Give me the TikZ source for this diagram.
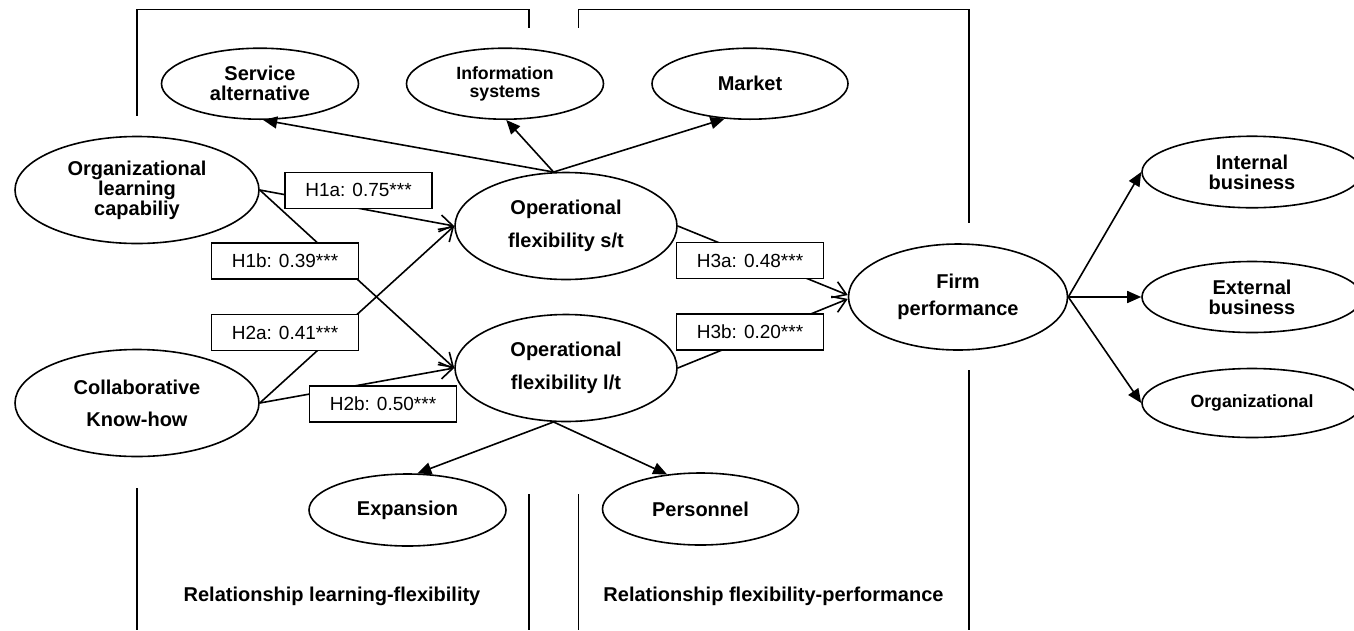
\documentclass[tikz,border=0pt]{standalone}
\usepackage{fontspec}
\setmainfont{Liberation Sans}
\usetikzlibrary{shapes.geometric,arrows.meta}
\begin{document}
\begin{tikzpicture}[x=1pt,y=-1pt,
  lat/.style={ellipse,draw,line width=1.6pt,inner sep=0pt,align=center,font=\bfseries\fontsize{20}{20}\selectfont},
  latsmall/.style={lat,font=\bfseries\fontsize{17.7}{18.3}\selectfont},
  hyp/.style={rectangle,draw,fill=white,line width=1.6pt,minimum width=147pt,minimum height=36pt,inner sep=0pt,font=\fontsize{19}{19}\selectfont},
  conn/.style={line width=1.6pt,-{Straight Barb[length=13pt,width=17pt,line width=1.6pt]}},
  ind/.style={line width=1.6pt,-{Triangle[length=14pt,width=12pt]}},
  frame/.style={line width=1.2pt},
  grp/.style={font=\bfseries\fontsize{20}{20}\selectfont}
]
\useasboundingbox (0,0) rectangle (1354,630);
\clip (0,0) rectangle (1354,630);

% frame lines
\draw[frame] (137,115.7) -- (137,9.3) -- (529,9.3) -- (529,27.7);
\draw[frame] (578.6,27.7) -- (578.6,9.3) -- (969,9.3) -- (969,223);
\draw[frame] (137,488) -- (137,630);
\draw[frame] (529,494) -- (529,630);
\draw[frame] (578.6,494) -- (578.6,630);
\draw[frame] (969,370) -- (969,630);

% latent variables
\node[lat,minimum width=197pt,minimum height=71pt] (sa) at (260,83.7) {Service\\alternative};
\node[latsmall,minimum width=197pt,minimum height=71pt] (is) at (505,83.7) {Information\\systems};
\node[lat,minimum width=196pt,minimum height=71pt] (mk) at (750,83.7) {Market};
\node[lat,minimum width=244pt,minimum height=107pt] (ol) at (137,190) {Organizational\\learning\\capabiliy};
\node[lat,minimum width=222pt,minimum height=107pt] (st) at (566,226) {Operational\\[12.7pt]flexibility s/t};
\node[lat,minimum width=244pt,minimum height=107pt] (ck) at (137,403) {Collaborative\\[12pt]Know-how};
\node[lat,minimum width=222pt,minimum height=107pt] (lt) at (566,368) {Operational\\[12.7pt]flexibility l/t};
\node[lat,minimum width=197pt,minimum height=72pt] (ex) at (407.5,510) {Expansion};
\node[lat,minimum width=196pt,minimum height=72pt] (pe) at (700.5,509) {Personnel};
\node[lat,minimum width=219pt,minimum height=106pt] (fp) at (958,297) {Firm\\[7pt]performance};
\node[lat,minimum width=220pt,minimum height=71.5pt] (ib) at (1252,172) {Internal\\business};
\node[lat,minimum width=220pt,minimum height=71pt] (eb) at (1252,297) {External\\business};
\node[latsmall,minimum width=220pt,minimum height=69pt] (og) at (1252,403) {Organizational};

% structural paths
\draw[conn] (ol.east) -- (st.west);
\draw[conn] (ol.east) -- (lt.west);
\draw[conn] (ck.east) -- (st.west);
\draw[conn] (ck.east) -- (lt.west);
\draw[conn] (st.east) -- (fp.179);
\draw[conn] (lt.east) -- (fp.181);

% dimension arrows
\draw[ind] (st.103) -- (sa.275);
\draw[ind] (st.103) -- (is.272);
\draw[ind] (st.103) -- (mk.234);
\draw[ind] (lt.257) -- (ex.75);
\draw[ind] (lt.257) -- (pe.134);
\draw[ind] (fp.east) -- (ib.west);
\draw[ind] (fp.east) -- (eb.west);
\draw[ind] (fp.east) -- (og.west);

% hypothesis labels
\node[hyp] (h1a) at (358.5,190.3) {H1a: 0.75***};
\node[hyp] (h1b) at (285,261) {H1b: 0.39***};
\node[hyp] (h2a) at (285,332.5) {H2a: 0.41***};
\node[hyp] (h2b) at (383,403.7) {H2b: 0.50***};
\node[hyp] (h3a) at (750,260.5) {H3a: 0.48***};
\node[hyp] (h3b) at (750,332) {H3b: 0.20***};

% group labels
\node[grp] (g1) at (332,596) {Relationship learning-flexibility};
\node[grp] (g2) at (773.5,596) {Relationship flexibility-performance};
\end{tikzpicture}
\end{document}
